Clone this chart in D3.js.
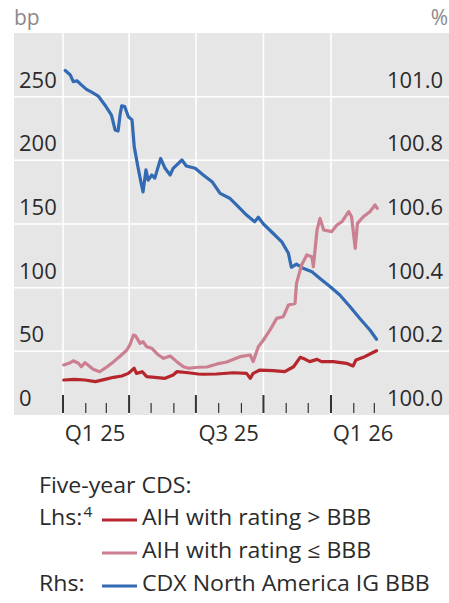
<!DOCTYPE html>
<html>
<head>
<meta charset="utf-8">
<script src="https://cdn.jsdelivr.net/npm/d3@7/dist/d3.min.js"></script>
<style>
  body { margin: 0; background: #fff; }
  svg text { font-family: "Open Sans", "Noto Sans", sans-serif; }
</style>
</head>
<body>
<svg id="chart" width="449" height="603"></svg>
<script>
// Five-year CDS, AIH issuers with rating above BBB (bp, left axis)
const highRatedDates = ["2025-01-02","2025-01-17","2025-01-31","2025-02-14","2025-02-27","2025-03-11","2025-03-22","2025-03-31","2025-04-08","2025-04-11","2025-04-19","2025-04-25","2025-05-06","2025-05-20","2025-05-31","2025-06-05","2025-06-21","2025-07-04","2025-07-11","2025-07-29","2025-08-21","2025-09-08","2025-09-13","2025-09-17","2025-09-26","2025-10-14","2025-10-30","2025-11-11","2025-11-20","2025-11-27","2025-12-03","2025-12-13","2025-12-19","2026-01-04","2026-01-22","2026-01-31","2026-02-04","2026-02-14","2026-02-25","2026-03-04"];
const highRatedCds = [27.5,28.0,27.5,26.2,28.0,29.6,30.6,32.7,36.7,32.7,34.0,30.1,29.6,28.8,31.4,34.0,33.2,32.2,32.0,32.2,33.2,32.7,28.8,32.7,35.3,34.8,34.0,37.9,45.3,43.7,41.9,43.7,41.9,41.9,40.6,38.5,43.2,45.3,48.5,50.5];

// Five-year CDS, AIH issuers with rating at or below BBB (bp, left axis)
const lowRatedDates = ["2025-01-02","2025-01-11","2025-01-15","2025-01-22","2025-01-26","2025-01-31","2025-02-04","2025-02-11","2025-02-20","2025-03-02","2025-03-11","2025-03-20","2025-03-29","2025-04-02","2025-04-07","2025-04-10","2025-04-16","2025-04-20","2025-04-25","2025-05-02","2025-05-11","2025-05-18","2025-05-27","2025-06-05","2025-06-14","2025-06-21","2025-07-04","2025-07-16","2025-07-30","2025-08-12","2025-08-30","2025-09-13","2025-09-17","2025-09-24","2025-10-01","2025-10-10","2025-10-19","2025-10-28","2025-11-04","2025-11-13","2025-11-15","2025-11-22","2025-11-29","2025-12-06","2025-12-08","2025-12-13","2025-12-17","2025-12-22","2026-01-02","2026-01-09","2026-01-16","2026-01-25","2026-01-29","2026-02-03","2026-02-06","2026-02-14","2026-02-23","2026-03-02","2026-03-05"];
const lowRatedCds = [39.3,41.1,42.6,40.6,37.9,41.1,39.3,35.9,34.0,37.9,41.9,46.3,51.0,55.0,62.8,62.0,56.3,57.6,53.6,52.4,47.1,44.5,46.3,41.9,37.9,36.7,37.5,37.7,40.1,41.6,45.8,47.1,41.9,53.6,58.9,66.8,75.9,77.2,86.4,87.7,103.4,117.8,125.7,124.3,116.5,145.3,154.5,145.3,144.0,149.2,151.8,159.7,155.7,130.9,150.5,155.7,159.7,164.9,162.3];

// CDX North America IG BBB (%, right axis)
const cdxDates = ["2025-01-04","2025-01-11","2025-01-15","2025-01-20","2025-01-26","2025-02-02","2025-02-09","2025-02-18","2025-02-27","2025-03-08","2025-03-13","2025-03-17","2025-03-20","2025-03-22","2025-03-26","2025-03-31","2025-04-05","2025-04-08","2025-04-13","2025-04-17","2025-04-20","2025-04-24","2025-04-27","2025-05-02","2025-05-06","2025-05-14","2025-05-20","2025-05-27","2025-05-31","2025-06-12","2025-06-18","2025-06-30","2025-07-11","2025-07-23","2025-08-03","2025-08-16","2025-08-28","2025-09-08","2025-09-19","2025-09-24","2025-10-01","2025-10-14","2025-10-26","2025-11-04","2025-11-08","2025-11-15","2025-11-24","2025-12-06","2025-12-17","2025-12-31","2026-01-13","2026-01-27","2026-02-09","2026-02-23","2026-03-04"];
const cdxPrice = [101.082,101.068,101.047,101.050,101.037,101.023,101.014,101.002,100.974,100.942,100.895,100.892,100.948,100.971,100.969,100.937,100.927,100.843,100.780,100.733,100.701,100.770,100.738,100.754,100.744,100.806,100.775,100.754,100.775,100.801,100.782,100.775,100.754,100.733,100.696,100.681,100.654,100.628,100.607,100.621,100.600,100.571,100.544,100.508,100.464,100.474,100.461,100.450,100.429,100.403,100.377,100.340,100.304,100.267,100.238];

// Axis ticks and labels
const leftTicks = [0, 50, 100, 150, 200, 250];
const rightTicks = ["100.0", "100.2", "100.4", "100.6", "100.8", "101.0"];
const quarterLabels = ["Q1 25", "Q3 25", "Q1 26"];
const quarterLabelStarts = ["2025-01-01", "2025-07-01", "2026-01-01"];

const legendTitle = "Five-year CDS:";
const legendRows = [
  { side: "Lhs:", sup: "4", label: "AIH with rating > BBB", color: "#b5262d" },
  { side: "", sup: "", label: "AIH with rating \u2264 BBB", color: "#cc7f90" },
  { side: "Rhs:", sup: "", label: "CDX North America IG BBB", color: "#336ab4" }
];

const parse = d3.utcParse("%Y-%m-%d");
const svg = d3.select("#chart");

const panel = { left: 14, right: 449, top: 33, bottom: 415 };
const x = d3.scaleUtc()
  .domain([parse("2025-01-01"), parse("2026-01-01")])
  .range([63, 331]);
const yLeft = d3.scaleLinear().domain([0, 300]).range([panel.bottom, panel.top]);
const yRight = d3.scaleLinear().domain([100, 101.2]).range([panel.bottom, panel.top]);

const textColor = "#2b2b2b";
const fontSize = 22;

// panel background
svg.append("rect")
  .attr("x", panel.left).attr("y", panel.top)
  .attr("width", panel.right - panel.left).attr("height", panel.bottom - panel.top)
  .attr("fill", "#e6e6e6");

// horizontal grid
svg.append("g").selectAll("line")
  .data(leftTicks.filter(v => v > 0))
  .join("line")
  .attr("x1", panel.left).attr("x2", panel.right)
  .attr("y1", d => yLeft(d)).attr("y2", d => yLeft(d))
  .attr("stroke", "#fff").attr("stroke-width", 1.5);

// vertical grid at quarter starts
const months = d3.utcMonth.range(parse("2025-01-01"), parse("2026-03-02"));
const quarters = months.filter(d => d.getUTCMonth() % 3 === 0);
svg.append("g").selectAll("line")
  .data(quarters)
  .join("line")
  .attr("x1", d => x(d)).attr("x2", d => x(d))
  .attr("y1", panel.top).attr("y2", panel.bottom)
  .attr("stroke", "#fff").attr("stroke-width", 1.5);

// month ticks (quarters long, other months short)
svg.append("g").selectAll("line")
  .data(months)
  .join("line")
  .attr("x1", d => x(d)).attr("x2", d => x(d))
  .attr("y1", d => d.getUTCMonth() % 3 === 0 ? 395 : 403)
  .attr("y2", 413)
  .attr("stroke", "#333")
  .attr("stroke-width", d => d.getUTCMonth() % 3 === 0 ? 2 : 1.2);

// left axis labels
svg.append("g").selectAll("text")
  .data(leftTicks)
  .join("text")
  .attr("x", 19).attr("y", d => yLeft(d) - 9)
  .attr("font-size", fontSize).attr("fill", textColor)
  .text(d => d);

// right axis labels
svg.append("g").selectAll("text")
  .data(rightTicks)
  .join("text")
  .attr("x", 443).attr("y", d => yRight(+d) - 9)
  .attr("text-anchor", "end")
  .attr("font-size", fontSize).attr("fill", textColor)
  .text(d => d);

// units
svg.append("text").attr("x", 14).attr("y", 25)
  .attr("font-size", fontSize - 1).attr("fill", "#8a8a8a").text("bp");
svg.append("text").attr("x", 448).attr("y", 25).attr("text-anchor", "end")
  .attr("font-size", fontSize - 1).attr("fill", "#8a8a8a").text("%");

// quarter labels, centred in their quarter
svg.append("g").selectAll("text")
  .data(quarterLabels)
  .join("text")
  .attr("x", (d, i) => {
    const s = parse(quarterLabelStarts[i]);
    return (x(s) + x(d3.utcMonth.offset(s, 3))) / 2 - 1;
  })
  .attr("y", 441)
  .attr("text-anchor", "middle")
  .attr("font-size", fontSize).attr("fill", textColor)
  .text(d => d);

// series
function drawSeries(dates, values, scale, color) {
  const pts = dates.map((d, i) => [parse(d), values[i]]);
  svg.append("path")
    .datum(pts)
    .attr("fill", "none")
    .attr("stroke", color)
    .attr("stroke-width", 3.2)
    .attr("stroke-linejoin", "round")
    .attr("stroke-linecap", "round")
    .attr("d", d3.line().x(p => x(p[0])).y(p => scale(p[1])));
}
drawSeries(cdxDates, cdxPrice, yRight, legendRows[2].color);
drawSeries(highRatedDates, highRatedCds, yLeft, legendRows[0].color);
drawSeries(lowRatedDates, lowRatedCds, yLeft, legendRows[1].color);

// legend (text set slightly wide)
const legend = svg.append("g");
const legendFont = 21;
const stretch = 1.1;
function legendText(tx, ty, str) {
  return legend.append("text")
    .attr("transform", `translate(${tx},${ty}) scale(${stretch},1)`)
    .attr("font-size", legendFont).attr("fill", textColor).text(str);
}
legendText(39, 493, legendTitle);
legendRows.forEach((r, i) => {
  const base = 525 + i * 33;
  if (r.side) {
    const t = legendText(39, base, r.side);
    if (r.sup) {
      t.append("tspan").attr("dx", 1).attr("dy", -8).attr("font-size", 14).text(r.sup);
    }
  }
  legend.append("line")
    .attr("x1", 102).attr("x2", 137)
    .attr("y1", base - 5).attr("y2", base - 5)
    .attr("stroke", r.color).attr("stroke-width", 3);
  legendText(142, base, r.label);
});
</script>
</body>
</html>
